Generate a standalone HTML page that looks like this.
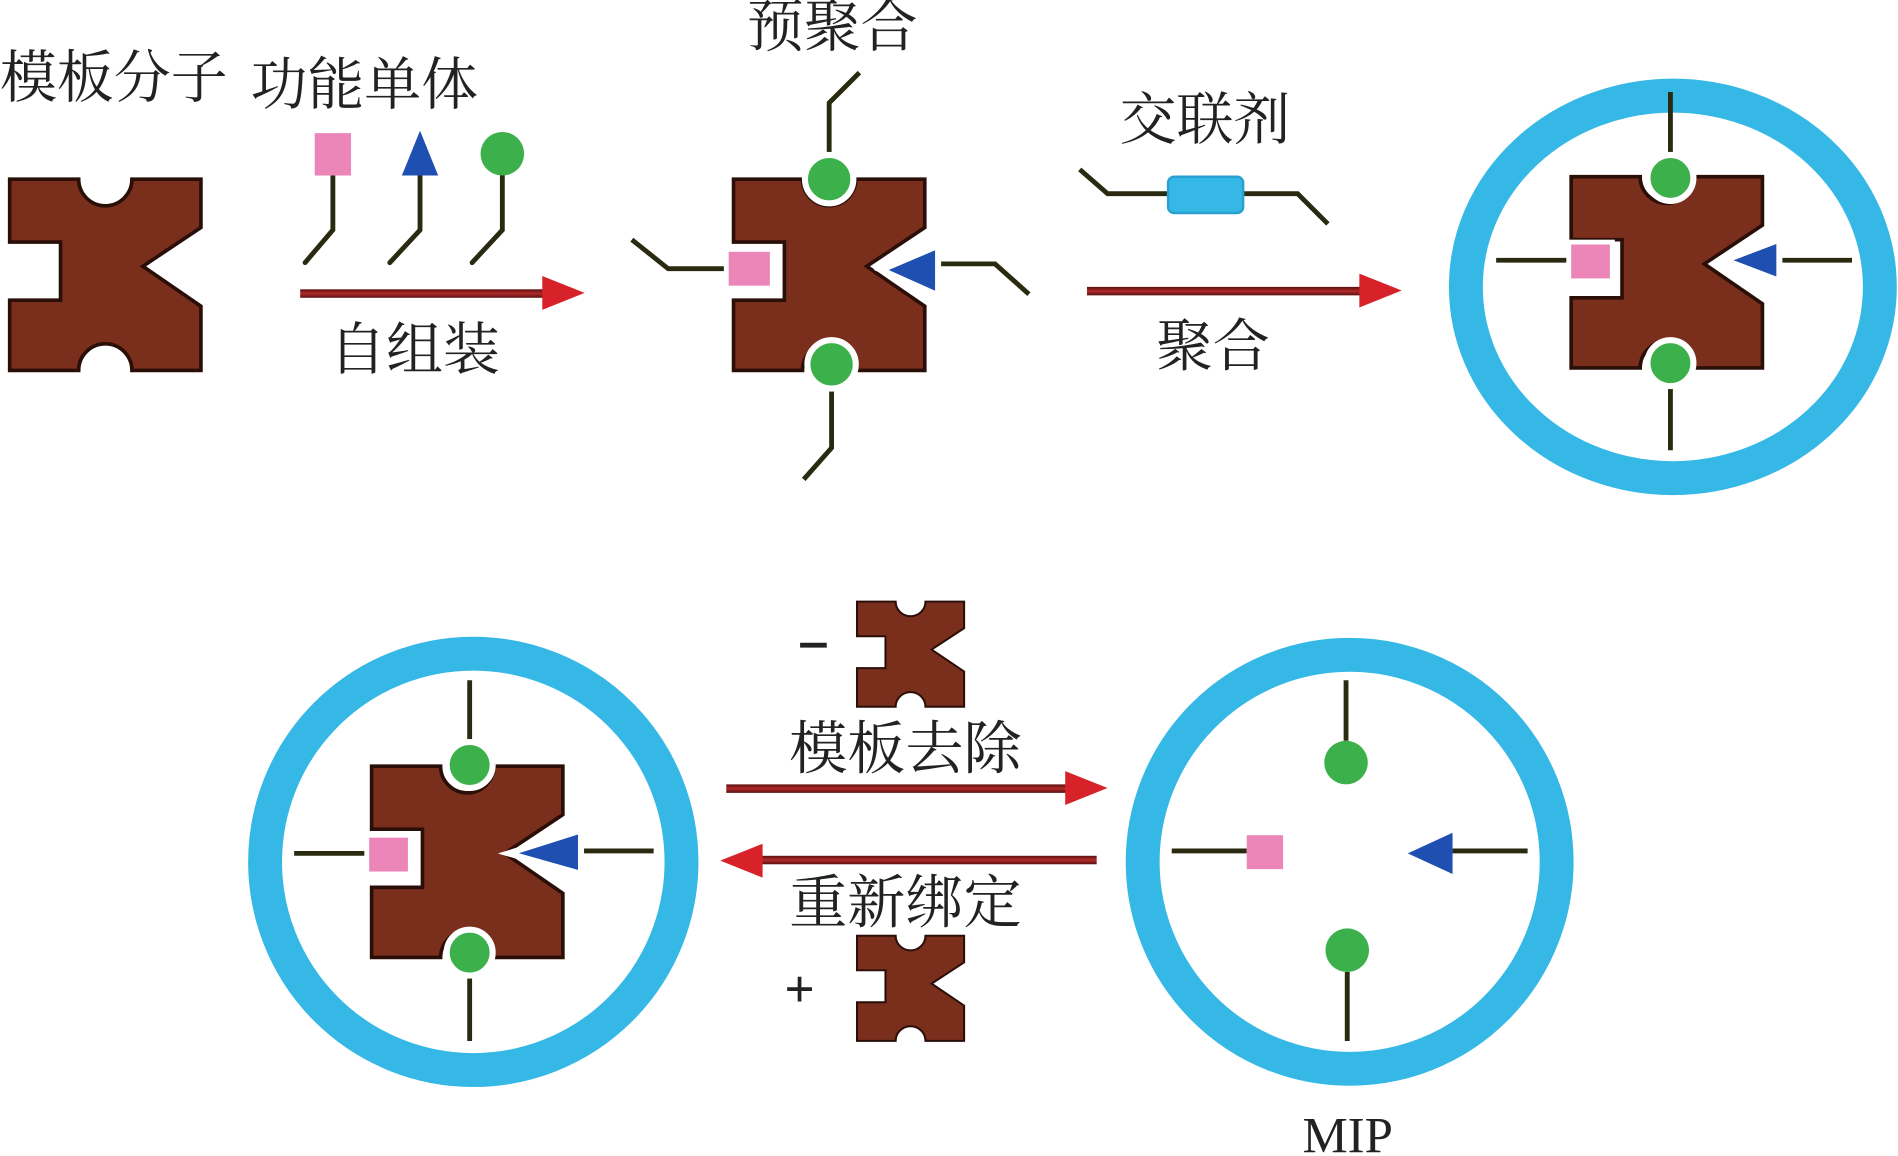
<!DOCTYPE html>
<html><head><meta charset="utf-8"><style>
html,body{margin:0;padding:0;background:#fff;}
svg{display:block;}
text{font-family:"Liberation Serif","Noto Serif CJK SC",serif;fill:#222;}
</style></head><body>
<svg width="1898" height="1156" viewBox="0 0 1568 955" preserveAspectRatio="none" xmlns="http://www.w3.org/2000/svg">
<defs>
<path id="tpl" d="M0,0 H57 A22,22 0 0 0 101,0 H158 V40 L110,72 L158,105 V158 H101 A22,22 0 0 0 57,158 H0 V100 H42 V52 H0 Z" fill="#7a2e1c" stroke="#2a0e08" stroke-width="3"/>
<linearGradient id="arr" x1="0" y1="0" x2="0" y2="1"><stop offset="0" stop-color="#5a1010"/><stop offset="0.5" stop-color="#b22a2a"/><stop offset="1" stop-color="#5a1010"/></linearGradient>
</defs>

<text x="0" y="80" font-size="47">模板分子</text>
<text x="207" y="86" font-size="47">功能单体</text>
<text x="617" y="38" font-size="47">预聚合</text>
<text x="925" y="115" font-size="47">交联剂</text>
<text x="272" y="305" font-size="47">自组装</text>
<text x="955" y="302" font-size="47">聚合</text>
<text x="652" y="635" font-size="48">模板去除</text>
<text x="652" y="762" font-size="48">重新绑定</text>
<text x="1076" y="952" font-size="42">MIP</text>
<rect x="661" y="531" width="22" height="4" fill="#222"/>
<text x="648" y="832" font-size="44" font-weight="bold" font-family="Liberation Sans,sans-serif">+</text>

<use href="#tpl" x="8" y="148"/>

<g stroke="#2a2a10" stroke-width="4" fill="none" stroke-linecap="round">
<polyline points="275,145 275,190 252,217"/>
<polyline points="347,145 347,190 322,217"/>
<polyline points="415,145 415,190 390,217"/>
</g>
<rect x="260" y="110" width="30" height="35" fill="#ec85b8"/>
<polygon points="347,108 332,145 362,145" fill="#1f4fb0"/>
<circle cx="415" cy="127" r="18" fill="#3cb04a"/>

<rect x="248" y="239" width="210" height="7" fill="url(#arr)"/>
<polygon points="448,228 483,242 448,256" fill="#d8222a"/>

<use href="#tpl" x="606" y="148"/>
<g stroke="#2a2a10" stroke-width="4" fill="none">
<polyline points="685,130 685,85 710,60"/>
<polyline points="687,318 687,370 664,396"/>
<polyline points="600,222 552,222 522,198"/>
<polyline points="772,218 822,218 850,243"/>
</g>
<circle cx="685" cy="148" r="20" fill="#3cb04a" stroke="#fff" stroke-width="5"/>
<circle cx="687" cy="301" r="20" fill="#3cb04a" stroke="#fff" stroke-width="5"/>
<rect x="600" y="206" width="38" height="32" fill="#ec85b8" stroke="#fff" stroke-width="4"/>
<polygon points="728,223 775,203 775,244" fill="#1f4fb0" stroke="#fff" stroke-width="5"/>

<g stroke="#2a2a10" stroke-width="4" fill="none">
<polyline points="892,140 915,160 965,160"/>
<polyline points="1027,160 1072,160 1097,185"/>
</g>
<rect x="965" y="146" width="62" height="30" rx="5" fill="#35b8e6" stroke="#2aa0d0" stroke-width="2"/>

<rect x="898" y="237" width="235" height="7" fill="url(#arr)"/>
<polygon points="1123,226 1158,240 1123,254" fill="#d8222a"/>

<ellipse cx="1382" cy="237" rx="171" ry="158" fill="none" stroke="#35b8e6" stroke-width="28"/>
<use href="#tpl" x="1298" y="146"/>
<g stroke="#2a2a10" stroke-width="4" fill="none">
<line x1="1380" y1="76" x2="1380" y2="130"/>
<line x1="1380" y1="318" x2="1380" y2="372"/>
<line x1="1236" y1="215" x2="1297" y2="215"/>
<line x1="1468" y1="215" x2="1530" y2="215"/>
</g>
<circle cx="1380" cy="147" r="19" fill="#3cb04a" stroke="#fff" stroke-width="5"/>
<circle cx="1380" cy="300" r="19" fill="#3cb04a" stroke="#fff" stroke-width="5"/>
<rect x="1296" y="200" width="36" height="32" fill="#ec85b8" stroke="#fff" stroke-width="4"/>
<polygon points="1425,215 1470,198 1470,232" fill="#1f4fb0" stroke="#fff" stroke-width="5"/>

<circle cx="391" cy="712" r="172" fill="none" stroke="#35b8e6" stroke-width="28"/>
<use href="#tpl" x="307" y="633"/>
<g stroke="#2a2a10" stroke-width="4" fill="none">
<line x1="388" y1="562" x2="388" y2="615"/>
<line x1="388" y1="805" x2="388" y2="860"/>
<line x1="243" y1="705" x2="303" y2="705"/>
<line x1="478" y1="703" x2="540" y2="703"/>
</g>
<circle cx="388" cy="632" r="19" fill="#3cb04a" stroke="#fff" stroke-width="5"/>
<circle cx="388" cy="787" r="19" fill="#3cb04a" stroke="#fff" stroke-width="5"/>
<rect x="303" y="690" width="36" height="32" fill="#ec85b8" stroke="#fff" stroke-width="4"/>
<polygon points="420,705 480,686 480,722" fill="#1f4fb0" stroke="#fff" stroke-width="5"/>

<circle cx="1115" cy="712" r="171" fill="none" stroke="#35b8e6" stroke-width="28"/>
<g stroke="#2a2a10" stroke-width="4" fill="none">
<line x1="1112" y1="562" x2="1112" y2="612"/>
<line x1="1113" y1="803" x2="1113" y2="860"/>
<line x1="968" y1="703" x2="1030" y2="703"/>
<line x1="1200" y1="703" x2="1262" y2="703"/>
</g>
<circle cx="1112" cy="630" r="18" fill="#3cb04a"/>
<circle cx="1113" cy="785" r="18" fill="#3cb04a"/>
<rect x="1030" y="690" width="30" height="28" fill="#ec85b8"/>
<polygon points="1163,705 1200,688 1200,722" fill="#1f4fb0"/>

<use href="#tpl" transform="translate(708,497) scale(0.56,0.55)"/>
<use href="#tpl" transform="translate(708,773) scale(0.56,0.55)"/>
<rect x="600" y="648" width="295" height="7" fill="url(#arr)"/>
<polygon points="880,637 915,651 880,665" fill="#d8222a"/>
<rect x="615" y="707" width="291" height="7" fill="url(#arr)"/>
<polygon points="630,697 595,711 630,725" fill="#d8222a"/>
</svg>
</body></html>
